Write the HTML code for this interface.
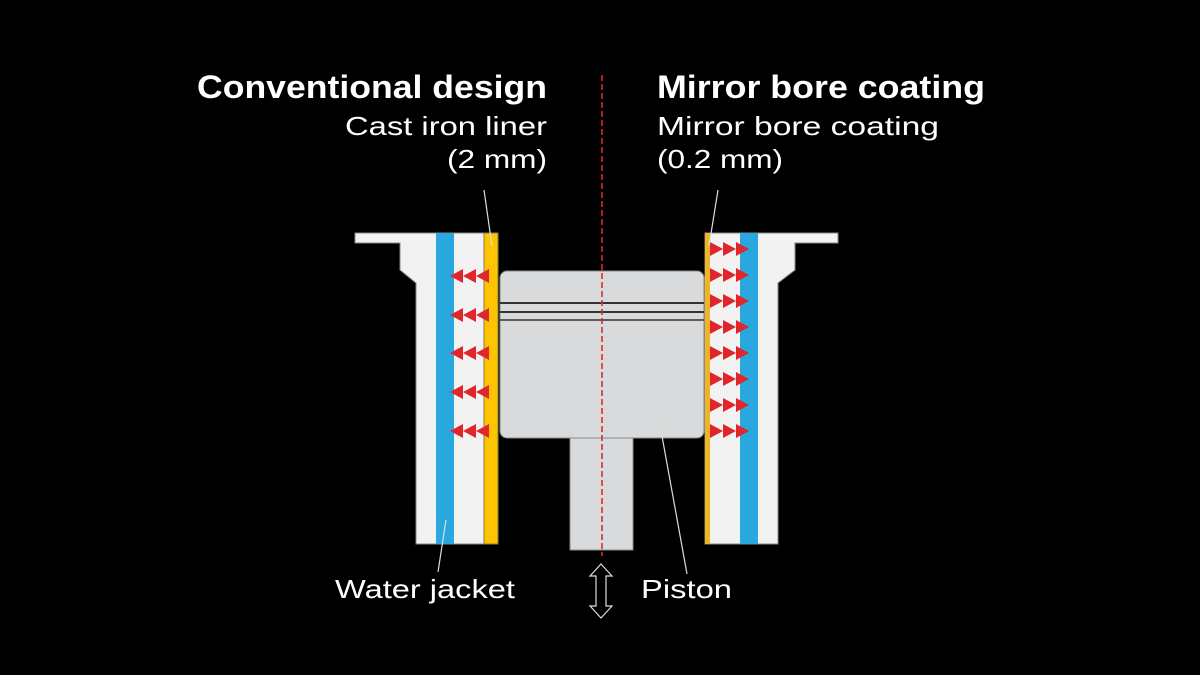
<!DOCTYPE html>
<html><head><meta charset="utf-8"><style>html,body{margin:0;padding:0;background:#000;}svg{display:block}</style></head>
<body>
<svg width="1200" height="675" viewBox="0 0 1200 675" xmlns="http://www.w3.org/2000/svg" font-family="Liberation Sans, sans-serif">
<rect width="1200" height="675" fill="#000"/>
<path d="M355 233 H498 V544 H416 V283 L400 270 V243 H355 Z" fill="#f2f2f2" stroke="#888" stroke-width="1"/>
<rect x="436" y="233" width="18" height="311" fill="#29a8e0"/>
<rect x="484" y="233" width="14" height="311" fill="#ffc400" stroke="#8a7a4a" stroke-width="1"/>
<path d="M705 233 H838 V243 H795 V270 L778 283 V544 H705 Z" fill="#f2f2f2" stroke="#888" stroke-width="1"/>
<rect x="740" y="233" width="18" height="311" fill="#29a8e0"/>
<rect x="705" y="233" width="5" height="311" fill="#f0b429"/>
<rect x="570" y="430" width="63" height="120" fill="#d9dadc" stroke="#888" stroke-width="1"/>
<rect x="500" y="271" width="204" height="167" rx="7" fill="#d9dadc" stroke="#888" stroke-width="1"/>
<line x1="500" y1="303" x2="704" y2="303" stroke="#333" stroke-width="2"/>
<line x1="500" y1="312" x2="704" y2="312" stroke="#333" stroke-width="2"/>
<line x1="500" y1="320" x2="704" y2="320" stroke="#333" stroke-width="1.5"/>
<g fill="#e0262b">
<g id="la"><polygon points="450,276 463,269 463,283"/><polygon points="463,276 476,269 476,283"/><polygon points="476,276 489,269 489,283"/></g>
<use href="#la" y="39"/><use href="#la" y="77"/><use href="#la" y="116"/><use href="#la" y="155"/>
<g id="ra"><polygon points="723,249 710,242 710,256"/><polygon points="736,249 723,242 723,256"/><polygon points="749,249 736,242 736,256"/></g>
<use href="#ra" y="26"/><use href="#ra" y="52"/><use href="#ra" y="78"/><use href="#ra" y="104"/><use href="#ra" y="130"/><use href="#ra" y="156"/><use href="#ra" y="182"/>
</g>
<line x1="602" y1="75" x2="602" y2="556" stroke="#e0282e" stroke-width="1.6" stroke-dasharray="6,3"/>
<path d="M601 564 L612 576 H606 V606 H612 L601 618 L590 606 H596 V576 H590 Z" fill="none" stroke="#ddd" stroke-width="1.2"/>
<g stroke="#ddd" stroke-width="1.2">
<line x1="484" y1="190" x2="492" y2="246"/>
<line x1="718" y1="190" x2="709" y2="246"/>
<line x1="446" y1="520" x2="438" y2="572"/>
<line x1="660" y1="425" x2="687" y2="574"/>
</g>
<g fill="#fff">
<text x="197" y="98" font-size="32" font-weight="bold" textLength="350" lengthAdjust="spacingAndGlyphs">Conventional design</text>
<text x="345" y="135" font-size="26" textLength="202" lengthAdjust="spacingAndGlyphs">Cast iron liner</text>
<text x="447" y="168" font-size="26" textLength="100" lengthAdjust="spacingAndGlyphs">(2 mm)</text>
<text x="657" y="98" font-size="32" font-weight="bold" textLength="328" lengthAdjust="spacingAndGlyphs">Mirror bore coating</text>
<text x="657" y="135" font-size="26" textLength="282" lengthAdjust="spacingAndGlyphs">Mirror bore coating</text>
<text x="657" y="168" font-size="26" textLength="126" lengthAdjust="spacingAndGlyphs">(0.2 mm)</text>
<text x="335" y="598" font-size="26" textLength="180" lengthAdjust="spacingAndGlyphs">Water jacket</text>
<text x="641" y="598" font-size="26" textLength="91" lengthAdjust="spacingAndGlyphs">Piston</text>
</g>
</svg>
</body></html>
